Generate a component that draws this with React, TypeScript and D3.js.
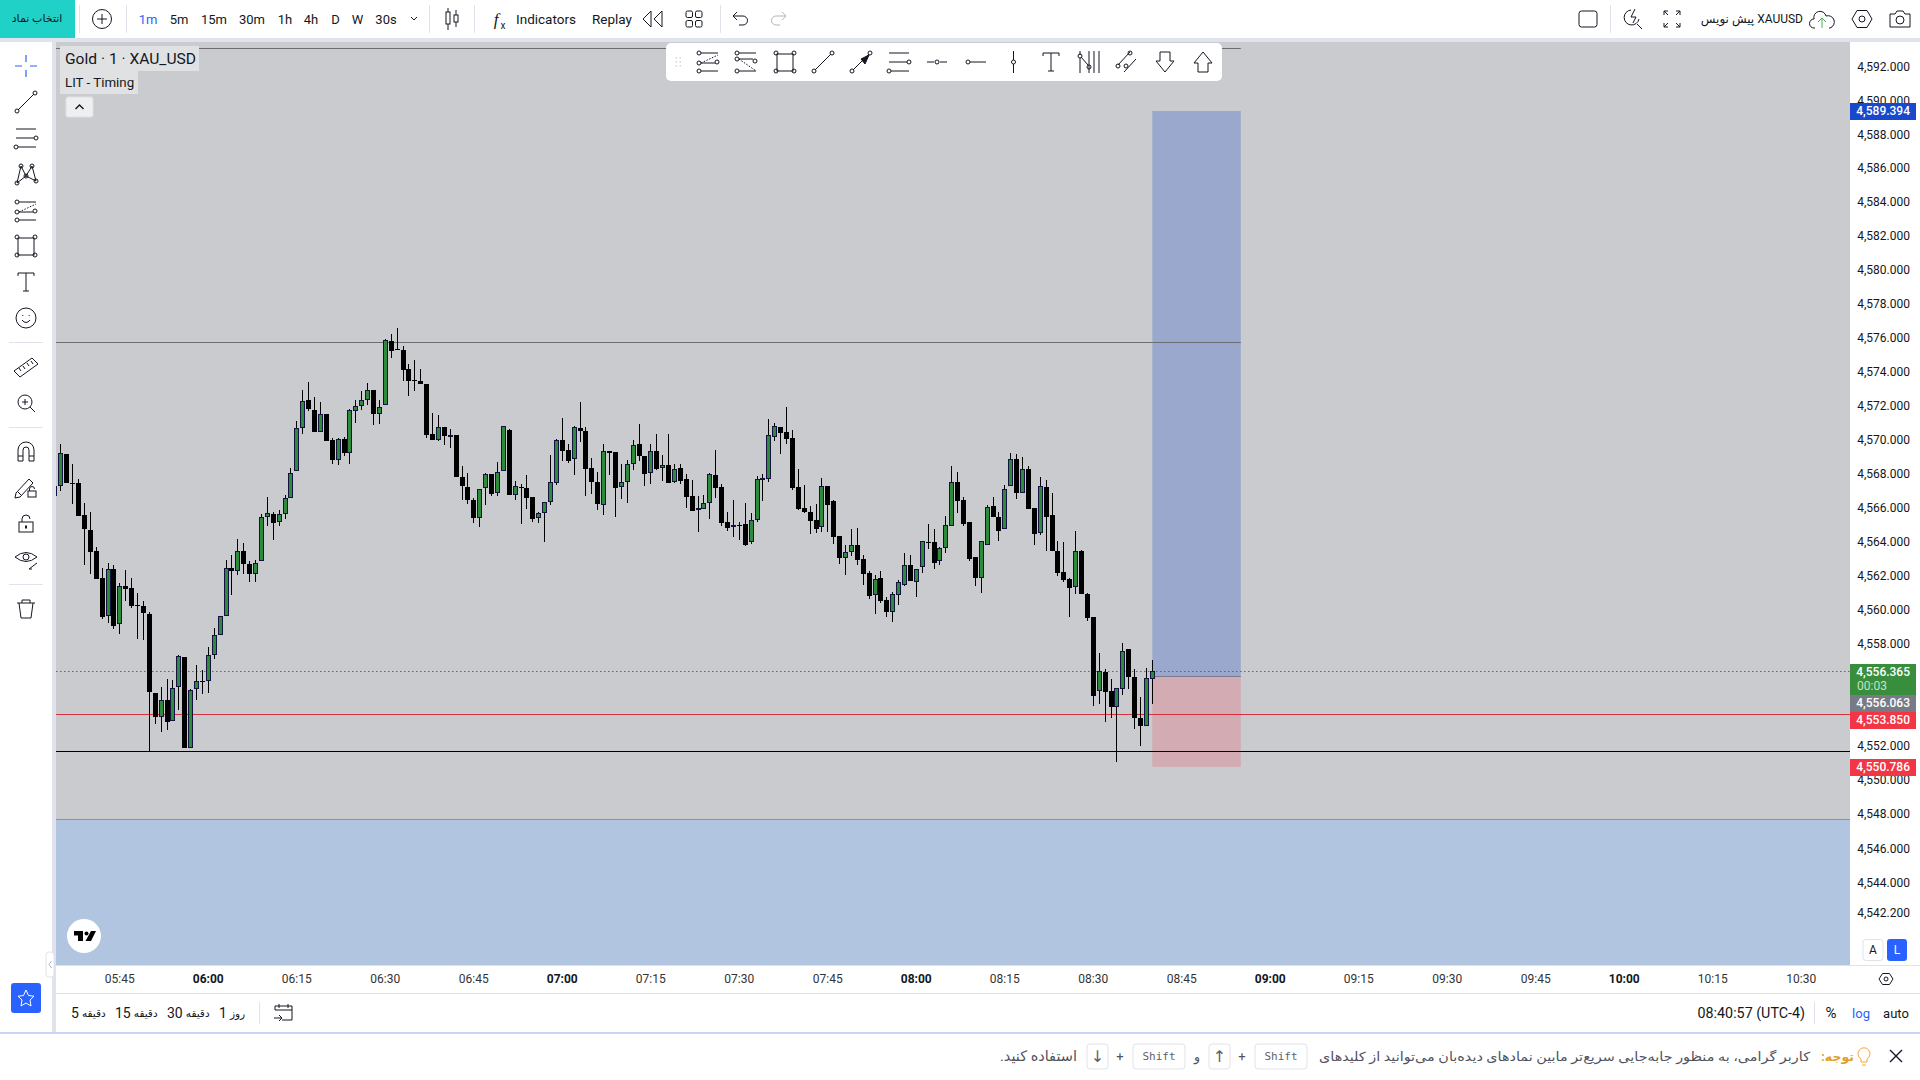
import { useEffect, useRef } from "react";
import * as d3 from "d3";

// one-minute bars, the first one is 05:34
const firstBarMinute = 334;

const opens = [
  4566.6, 4567.21, 4569.11, 4567.38, 4567.4, 4565.5, 4564.63, 4563.37, 4561.78, 4559.54,
  4562.31, 4559.07, 4561.33, 4561.19, 4560.19, 4560.13, 4559.68, 4555.02, 4553.59, 4554.59,
  4553.35, 4555.36, 4557.12, 4551.76, 4555.24, 4555.71, 4555.71, 4557.24, 4558.42, 4559.54,
  4562.37, 4562.19, 4563.37, 4562.61, 4562.0, 4562.78, 4565.38, 4565.57, 4565.06, 4565.56,
  4566.5, 4568.09, 4570.62, 4572.3, 4571.71, 4570.37, 4571.47, 4569.94, 4568.74, 4569.98,
  4569.15, 4571.63, 4571.9, 4572.26, 4572.88, 4571.45, 4571.98, 4575.75, 4575.28, 4575.22,
  4574.1, 4573.45, 4573.42, 4573.24, 4570.27, 4569.9, 4570.68, 4570.09, 4570.23, 4567.74,
  4567.15, 4566.4, 4565.3, 4567.09, 4567.93, 4566.77, 4568.09, 4570.52, 4566.67, 4567.14,
  4567.1, 4566.57, 4565.3, 4565.61, 4566.24, 4567.36, 4569.93, 4569.34, 4568.79, 4570.62,
  4570.46, 4568.28, 4567.46, 4566.06, 4569.29, 4569.23, 4567.14, 4567.42, 4568.5, 4569.7,
  4568.99, 4567.95, 4569.29, 4568.26, 4568.46, 4567.44, 4568.28, 4567.64, 4566.63, 4565.77,
  4565.85, 4566.2, 4567.87, 4567.16, 4565.1, 4564.79, 4564.9, 4564.98, 4563.88, 4565.18,
  4567.56, 4567.62, 4570.09, 4570.7, 4570.41, 4570.05, 4567.16, 4565.93, 4565.69, 4565.22,
  4564.79, 4567.22, 4566.34, 4564.28, 4562.94, 4563.29, 4563.74, 4562.92, 4562.09, 4560.76,
  4561.8, 4560.5, 4559.81, 4560.76, 4561.4, 4562.56, 4561.58, 4562.41, 4563.9, 4563.92,
  4562.76, 4563.53, 4564.88, 4567.46, 4566.4, 4565.1, 4563.03, 4561.76, 4563.76, 4566.04,
  4565.39, 4564.65, 4567.18, 4568.81, 4566.77, 4568.22, 4565.92, 4564.41, 4567.16, 4565.51,
  4563.39, 4562.15, 4561.74, 4561.23, 4563.39, 4560.85, 4559.5, 4555.15, 4556.26, 4555.14,
  4554.21, 4555.27, 4557.61, 4555.96, 4553.54, 4553.09, 4555.86,
];

const closes = [
  4567.21, 4569.15, 4567.36, 4567.38, 4565.42, 4564.65, 4563.29, 4561.7, 4559.52, 4562.31,
  4558.99, 4561.31, 4561.11, 4560.11, 4560.19, 4559.7, 4555.1, 4553.63, 4554.59, 4553.33,
  4555.3, 4557.18, 4551.8, 4555.18, 4555.71, 4555.71, 4557.24, 4558.42, 4559.54, 4562.37,
  4562.17, 4563.37, 4562.59, 4562.0, 4562.67, 4565.38, 4565.61, 4565.0, 4565.56, 4566.5,
  4567.97, 4570.62, 4572.22, 4571.73, 4570.37, 4571.45, 4569.84, 4568.72, 4569.98, 4569.13,
  4571.69, 4571.92, 4572.28, 4572.86, 4571.43, 4571.86, 4575.81, 4575.2, 4575.28, 4574.08,
  4573.42, 4573.45, 4573.2, 4570.19, 4569.9, 4570.68, 4570.13, 4570.21, 4567.72, 4567.19,
  4566.36, 4565.3, 4567.03, 4567.91, 4566.75, 4568.03, 4570.74, 4566.65, 4567.2, 4567.14,
  4566.53, 4565.24, 4565.61, 4566.26, 4567.44, 4569.91, 4569.25, 4568.7, 4570.68, 4570.43,
  4568.24, 4567.42, 4566.12, 4569.27, 4569.13, 4567.12, 4567.44, 4568.5, 4569.62, 4568.99,
  4567.93, 4569.27, 4568.22, 4568.42, 4567.4, 4568.2, 4567.52, 4566.57, 4565.75, 4565.91,
  4566.2, 4567.91, 4567.1, 4565.04, 4564.75, 4564.9, 4564.9, 4563.74, 4565.2, 4567.62,
  4567.67, 4570.21, 4570.74, 4570.35, 4569.99, 4567.1, 4565.87, 4565.69, 4565.16, 4564.69,
  4567.2, 4566.1, 4564.22, 4562.98, 4563.31, 4563.72, 4562.86, 4562.03, 4560.74, 4561.72,
  4560.44, 4559.79, 4560.85, 4561.54, 4562.54, 4561.62, 4562.31, 4563.96, 4563.9, 4562.68,
  4563.55, 4564.9, 4567.44, 4566.34, 4564.98, 4562.92, 4561.8, 4563.96, 4565.96, 4565.39,
  4564.57, 4567.02, 4568.79, 4566.81, 4568.2, 4565.86, 4564.39, 4567.2, 4565.39, 4563.39,
  4562.09, 4561.68, 4561.21, 4563.37, 4560.85, 4559.44, 4554.84, 4556.29, 4555.08, 4554.19,
  4555.29, 4557.47, 4555.96, 4553.54, 4553.07, 4555.88, 4556.29,
];

const highs = [
  4567.25, 4569.7, 4569.11, 4568.52, 4567.64, 4566.22, 4565.69, 4563.61, 4562.39, 4562.69,
  4562.57, 4561.51, 4562.27, 4561.78, 4560.92, 4560.45, 4559.78, 4555.02, 4555.38, 4555.85,
  4555.77, 4557.26, 4557.12, 4555.26, 4556.67, 4556.4, 4557.71, 4558.85, 4559.54, 4562.84,
  4563.16, 4564.1, 4563.86, 4562.76, 4562.84, 4565.56, 4566.58, 4565.67, 4565.79, 4566.68,
  4568.29, 4571.06, 4572.88, 4573.36, 4572.45, 4572.16, 4571.47, 4570.05, 4570.05, 4570.09,
  4571.77, 4572.3, 4572.83, 4573.3, 4572.9, 4572.3, 4575.89, 4576.19, 4576.54, 4575.46,
  4574.4, 4574.63, 4574.12, 4573.24, 4571.53, 4571.39, 4570.68, 4570.57, 4570.23, 4568.38,
  4567.99, 4566.52, 4567.03, 4567.99, 4567.93, 4568.62, 4570.74, 4570.58, 4567.5, 4567.32,
  4567.85, 4566.57, 4565.67, 4566.28, 4569.05, 4569.99, 4571.23, 4569.7, 4570.76, 4572.17,
  4570.7, 4568.87, 4568.05, 4569.7, 4569.29, 4569.23, 4568.52, 4568.76, 4569.93, 4570.88,
  4568.99, 4569.7, 4570.29, 4569.05, 4570.29, 4568.52, 4568.52, 4567.93, 4567.58, 4566.63,
  4566.69, 4567.99, 4569.34, 4567.34, 4565.69, 4566.4, 4565.1, 4566.22, 4565.63, 4567.81,
  4567.93, 4571.17, 4570.94, 4570.7, 4571.88, 4570.52, 4568.22, 4567.28, 4566.04, 4566.16,
  4567.69, 4567.22, 4566.4, 4564.28, 4563.74, 4564.69, 4564.75, 4563.15, 4562.21, 4561.97,
  4562.19, 4560.68, 4560.97, 4561.68, 4563.27, 4563.15, 4562.33, 4563.98, 4564.98, 4564.69,
  4563.62, 4565.45, 4568.4, 4568.05, 4566.57, 4565.1, 4563.03, 4563.98, 4566.1, 4566.57,
  4565.69, 4567.28, 4569.17, 4569.11, 4568.93, 4568.4, 4565.92, 4567.75, 4567.57, 4566.81,
  4563.98, 4563.92, 4561.8, 4564.57, 4563.45, 4560.91, 4559.5, 4557.38, 4556.43, 4555.84,
  4555.31, 4557.97, 4557.61, 4556.43, 4554.78, 4556.49, 4556.96,
];

const lows = [
  4566.56, 4566.89, 4567.36, 4566.16, 4565.42, 4562.57, 4562.04, 4561.7, 4559.38, 4559.15,
  4558.8, 4558.5, 4560.41, 4560.03, 4558.21, 4558.15, 4551.59, 4553.2, 4552.74, 4552.86,
  4553.35, 4554.04, 4551.8, 4551.76, 4554.63, 4554.96, 4555.04, 4556.99, 4558.42, 4559.54,
  4560.8, 4561.98, 4562.04, 4561.57, 4561.53, 4562.78, 4564.87, 4564.04, 4564.87, 4565.24,
  4566.5, 4568.09, 4570.29, 4571.65, 4570.37, 4570.37, 4569.84, 4568.48, 4568.42, 4569.0,
  4568.48, 4570.94, 4571.71, 4572.0, 4570.82, 4570.88, 4571.98, 4574.77, 4575.26, 4573.42,
  4572.53, 4572.83, 4573.2, 4570.02, 4569.9, 4569.84, 4569.64, 4569.47, 4567.72, 4566.4,
  4566.16, 4565.04, 4564.81, 4566.06, 4566.63, 4566.63, 4568.09, 4566.65, 4566.4, 4564.98,
  4565.87, 4565.1, 4565.04, 4563.92, 4566.1, 4567.28, 4568.7, 4568.58, 4567.87, 4569.82,
  4566.63, 4566.75, 4565.81, 4565.51, 4567.87, 4565.39, 4566.46, 4566.22, 4568.17, 4568.7,
  4567.22, 4567.34, 4568.17, 4567.52, 4567.4, 4567.4, 4567.34, 4565.93, 4565.75, 4564.51,
  4565.85, 4565.28, 4566.52, 4564.86, 4564.57, 4564.22, 4564.04, 4563.69, 4563.8, 4565.1,
  4566.34, 4567.46, 4569.88, 4569.11, 4569.7, 4566.99, 4565.81, 4565.63, 4564.39, 4564.45,
  4564.51, 4564.51, 4563.8, 4562.62, 4561.98, 4563.1, 4562.57, 4561.38, 4560.56, 4559.67,
  4560.32, 4559.5, 4559.2, 4560.21, 4561.33, 4561.62, 4560.68, 4562.09, 4563.51, 4562.33,
  4562.56, 4563.27, 4564.88, 4565.63, 4564.86, 4562.8, 4561.33, 4560.91, 4563.76, 4565.39,
  4563.98, 4564.65, 4567.18, 4566.45, 4566.77, 4565.86, 4563.74, 4564.33, 4563.39, 4563.39,
  4561.92, 4561.56, 4559.5, 4560.85, 4560.85, 4559.26, 4554.25, 4554.37, 4553.31, 4553.54,
  4550.95, 4554.9, 4555.25, 4552.9, 4551.89, 4553.09, 4554.37,
];

const priceTicks = [
  4592, 4590, 4588, 4586, 4584, 4582, 4580, 4578, 4576, 4574, 4572, 4570, 4568, 4566, 4564,
  4562, 4560, 4558, 4552, 4550, 4548, 4546, 4544, 4542.2,
];
const timeLabels = [
  "05:45", "06:00", "06:15", "06:30", "06:45", "07:00", "07:15", "07:30", "07:45", "08:00",
  "08:15", "08:30", "08:45", "09:00", "09:15", "09:30", "09:45", "10:00", "10:15", "10:30",
];
const periodButtons = [
  { n: "5", word: "دقیقه" },
  { n: "15", word: "دقیقه" },
  { n: "30", word: "دقیقه" },
  { n: "1", word: "روز" },
];

// drawn levels on the chart
const topLevel = 4593.11;
const swingLevel = 4575.74;
const lastPrice = 4556.365;
const redLevel = 4553.85;
const blackLevel = 4551.66;
const zoneTop = 4547.7;
const entryPrice = 4556.063;
const targetPrice = 4589.394;
const stopPrice = 4550.786;
const boxStartMinute = 520;
const boxEndMinute = 535;

const fmt = d3.format(",.3f");
const INK = "#131722";
const LINE = "#e0e3eb";

const pane = { left: 56, right: 1850, top: 42, bottom: 965 };
const y = d3.scaleLog().domain([4592, 4542]).range([66.7, 914.7]);
// the axis labels and the drawn levels sit on a very slightly steeper scale than the read bars
const levelY = d3.scaleLog().domain([4592, 4542]).range([66.9, 916.9]);
const x = d3.scaleLinear().domain([360, 630]).range([208.3, 1801.3]);

function toMinute(label: string) {
  const [h, m] = label.split(":").map(Number);
  return h * 60 + m;
}

function Dot({ cx, cy }: { cx: number; cy: number }) {
  return <circle cx={cx} cy={cy} r={2} fill="none" />;
}

function Txt(props: any) {
  const { size = 13, color = INK, children, ...rest } = props;
  return (
    <text fontFamily="Roboto, 'DejaVu Sans', sans-serif" fontSize={size} fill={color} dominantBaseline="central" {...rest}>
      {children}
    </text>
  );
}

function Icon({ x: ix, y: iy, color = INK, children }: any) {
  return (
    <g transform={`translate(${ix},${iy})`} fill="none" stroke={color} strokeWidth={1}>
      {children}
    </g>
  );
}

function FibIcon({ x: ix, y: iy, flip = false }: any) {
  return (
    <Icon x={ix} y={iy}>
      <path d="M-7 -9H10M-7 9H10" />
      {flip ? (
        <g>
          <path d="M-7 -3H7" />
          <path d="M-7 -3L10 9" strokeDasharray="1.5 1.5" />
          <Dot cx={-9} cy={-3} />
          <Dot cx={9} cy={-1} />
        </g>
      ) : (
        <g>
          <path d="M-7 1H7" />
          <path d="M-7 1L10 -7" strokeDasharray="1.5 1.5" />
          <Dot cx={-9} cy={1} />
          <Dot cx={9} cy={0} />
        </g>
      )}
      <Dot cx={-9} cy={-9} />
      <Dot cx={-9} cy={9} />
    </Icon>
  );
}

function RectIcon({ x: ix, y: iy }: any) {
  return (
    <Icon x={ix} y={iy}>
      <rect x={-8} y={-8} width={16} height={17} />
      <Dot cx={-9} cy={-9} />
      <Dot cx={9} cy={-9} />
      <Dot cx={-9} cy={9} />
      <Dot cx={9} cy={9} />
    </Icon>
  );
}

function LineIcon({ x: ix, y: iy }: any) {
  return (
    <Icon x={ix} y={iy}>
      <path d="M-8 8L8 -8" />
      <Dot cx={-9} cy={9} />
      <Dot cx={9} cy={-9} />
    </Icon>
  );
}

function ChannelIcon({ x: ix, y: iy }: any) {
  return (
    <Icon x={ix} y={iy}>
      <path d="M-10 -9H10M-10 0H8M-8 9H10" />
      <Dot cx={10} cy={0} />
      <Dot cx={-10} cy={9} />
    </Icon>
  );
}

function TextIcon({ x: ix, y: iy }: any) {
  return (
    <Icon x={ix} y={iy}>
      <path d="M-8 -6V-9H8V-6M0 -9V9M-3 9H3" />
    </Icon>
  );
}

function Keycap({ x: kx, w, label, mono = false }: any) {
  return (
    <g>
      <rect x={kx} y={1044} width={w} height={25} rx={3} fill="#fff" stroke={LINE} />
      <text
        x={kx + w / 2}
        y={1056.5}
        textAnchor="middle"
        dominantBaseline="central"
        fontFamily={mono ? "'DejaVu Sans Mono', monospace" : "Roboto, 'DejaVu Sans', sans-serif"}
        fontSize={mono ? 11 : 16}
        fill="#5d606b"
      >
        {label}
      </text>
    </g>
  );
}

export default function App() {
  const chartRef = useRef<SVGGElement>(null);

  useEffect(() => {
    if (!chartRef.current) return;
    const g = d3.select(chartRef.current);
    g.selectAll("*").remove();

    const bars = opens.map((open, i) => ({
      minute: firstBarMinute + i,
      open,
      close: closes[i],
      high: highs[i],
      low: lows[i],
    }));

    const candle = g
      .selectAll("g")
      .data(bars)
      .join("g")
      .attr("shape-rendering", "crispEdges");

    const left = (d: any) => Math.round(x(d.minute) - 2.5);
    const bodyTop = (d: any) => Math.round(y(Math.max(d.open, d.close)));
    const bodyH = (d: any) => Math.max(1, Math.round(y(Math.min(d.open, d.close))) - bodyTop(d));

    candle
      .append("rect")
      .attr("x", (d) => left(d) + 2)
      .attr("width", 1)
      .attr("y", (d) => Math.round(y(d.high)))
      .attr("height", (d) => Math.max(1, Math.round(y(d.low)) - Math.round(y(d.high))))
      .attr("fill", "#000");

    candle
      .append("rect")
      .attr("x", (d) => left(d))
      .attr("width", 5)
      .attr("y", bodyTop)
      .attr("height", bodyH)
      .attr("fill", (d) => (d.close > d.open ? "#14123f" : "#000"));

    candle
      .filter((d) => d.close > d.open)
      .append("rect")
      .attr("x", (d) => left(d) + 1)
      .attr("width", 3)
      .attr("y", (d) => bodyTop(d) + 1)
      .attr("height", (d) => Math.max(0, bodyH(d) - 2))
      .attr("fill", "#2e8b3c");
  }, []);

  const boxX = x(boxStartMinute);
  const boxW = x(boxEndMinute) - boxX;
  const lvl = (p: number) => Math.floor(levelY(p)) + 0.5;

  return (
    <svg width={1920} height={1080} style={{ position: "absolute", left: 0, top: 0, display: "block" }}>
      <defs>
        <clipPath id="paneClip">
          <rect x={pane.left} y={pane.top} width={pane.right - pane.left} height={pane.bottom - pane.top} />
        </clipPath>
      </defs>
      <rect width={1920} height={1080} fill="#fff" />
      <rect y={38} width={1920} height={994} fill={LINE} />
      <rect y={1032} width={1920} height={2} fill="#ccd3f6" />
      <rect y={1034} width={1920} height={46} fill="#fff" />

      {/* chart pane */}
      <g clipPath="url(#paneClip)">
        <rect x={pane.left} y={pane.top} width={pane.right - pane.left} height={pane.bottom - pane.top} fill="#c9cbcf" />
        <rect x={pane.left} y={lvl(zoneTop)} width={pane.right - pane.left} height={pane.bottom - lvl(zoneTop)} fill="#b2c5e0" />
        <line x1={pane.left} x2={pane.right} y1={lvl(zoneTop)} y2={lvl(zoneTop)} stroke="#8f9296" />
        <rect x={boxX} y={levelY(targetPrice)} width={boxW} height={levelY(entryPrice) - levelY(targetPrice)} fill="#9aa8cd" />
        <rect x={boxX} y={levelY(entryPrice)} width={boxW} height={levelY(stopPrice) - levelY(entryPrice)} fill="#d2abb3" />
        <line x1={boxX} x2={boxX + boxW} y1={lvl(entryPrice)} y2={lvl(entryPrice)} stroke="#787b8e" strokeWidth={1} />
        <line x1={pane.left} x2={boxX + boxW} y1={lvl(topLevel)} y2={lvl(topLevel)} stroke="#6b6d70" />
        <line x1={pane.left} x2={boxX + boxW} y1={lvl(swingLevel)} y2={lvl(swingLevel)} stroke="#6b6d70" />
        <line x1={pane.left} x2={pane.right} y1={lvl(lastPrice)} y2={lvl(lastPrice)} stroke="#2e8b3c" strokeDasharray="1.5 2.5" />
        <line x1={pane.left} x2={pane.right} y1={lvl(redLevel)} y2={lvl(redLevel)} stroke="#d8303f" />
        <line x1={pane.left} x2={pane.right} y1={lvl(blackLevel)} y2={lvl(blackLevel)} stroke="#000" />
        <g ref={chartRef} />
      </g>

      {/* legend */}
      <rect x={60} y={46} width={139} height={25} fill="#e0e1e3" />
      <Txt x={65} y={58.5} size={15} textLength={131} lengthAdjust="spacingAndGlyphs">Gold · 1 · XAU_USD</Txt>
      <rect x={60} y={71} width={78} height={23} fill="#e0e1e3" />
      <Txt x={65} y={82.5} size={13.3}>LIT - Timing</Txt>
      <rect x={66} y={97} width={27} height={20} rx={2} fill="#eeeff0" stroke="#dfe0e2" />
      <path d="M75.5 109L79.5 105L83.5 109" fill="none" stroke={INK} strokeWidth={1.4} />

      {/* logo */}
      <circle cx={84} cy={936} r={17} fill="#fff" />
      <path d="M74 931H83V941H78V935.5H74ZM91 931H96L91 941H85.5Z" fill="#000" />
      <circle cx={86.5} cy={933.5} r={2} fill="#000" />

      {/* price axis */}
      <rect x={pane.right} y={42} width={70} height={923} fill="#fff" />
      {priceTicks.map((t) => (
        <Txt key={t} x={1910} y={levelY(t)} size={12} textAnchor="end">{fmt(t)}</Txt>
      ))}
      {[
        { value: targetPrice, top: 103, h: 17, fill: "#1848cc" },
        { value: entryPrice, top: 695, h: 17, fill: "#787b86" },
        { value: redLevel, top: 712, h: 17, fill: "#f23645" },
        { value: stopPrice, top: 759, h: 17, fill: "#f23645" },
      ].map((d) => (
        <g key={d.value}>
          <rect x={pane.right} y={d.top} width={66} height={d.h} fill={d.fill} />
          <Txt x={1910} y={d.top + d.h / 2 - 0.8} size={12} color="#fff" textAnchor="end" fontWeight={500}>{fmt(d.value)}</Txt>
        </g>
      ))}
      <rect x={pane.right} y={664} width={66} height={31} fill="#388e3c" />
      <Txt x={1910} y={672} size={12} color="#fff" textAnchor="end" fontWeight={500}>{fmt(lastPrice)}</Txt>
      <Txt x={1872} y={686} size={12} color="#c5e1c7" textAnchor="middle">00:03</Txt>
      <rect x={1863} y={939.5} width={20} height={21} rx={3} fill="#fff" stroke={LINE} />
      <Txt x={1873} y={950} size={12} textAnchor="middle">A</Txt>
      <rect x={1887} y={939} width={20} height={22} rx={3} fill="#2962ff" />
      <Txt x={1897} y={950} size={12} color="#fff" textAnchor="middle">L</Txt>

      {/* time axis */}
      <rect x={pane.left} y={965} width={1864} height={28} fill="#fff" />
      <line x1={pane.left} x2={1920} y1={965.5} y2={965.5} stroke={LINE} />
      <line x1={pane.left} x2={1920} y1={993.5} y2={993.5} stroke={LINE} />
      {timeLabels.map((t) => (
        <Txt key={t} x={x(toMinute(t))} y={978.5} size={12} textAnchor="middle" fontWeight={t.endsWith(":00") ? 700 : 400} color={t.endsWith(":00") ? INK : "#333"}>
          {t}
        </Txt>
      ))}
      <Icon x={1886} y={979}>
        <path d="M-7 0L-3.5 -5.5H3.5L7 0L3.5 5.5H-3.5Z" />
        <circle r={2} />
      </Icon>

      {/* bottom bar */}
      <rect x={pane.left} y={994} width={1864} height={38} fill="#fff" />
      {periodButtons.map((b, i) => (
        <Txt key={b.n} x={[71, 115, 167, 219][i]} y={1013} size={14}>
          {b.n}
          <tspan fontSize={10.5} dx={3}>{b.word}</tspan>
        </Txt>
      ))}
      <line x1={259.5} x2={259.5} y1={1002} y2={1024} stroke={LINE} />
      <Icon x={283} y={1013}>
        <path d="M-8 -3V-7H9V7H-1M-8 -3H9M-4 -9V-5M5 -9V-5M-9 5H-1M-4 2L-1 5L-4 8" />
      </Icon>
      <Txt x={1805} y={1013} size={14.3} textAnchor="end">08:40:57 (UTC-4)</Txt>
      <line x1={1814.5} x2={1814.5} y1={1002} y2={1024} stroke={LINE} />
      <Txt x={1831} y={1013} size={15} textAnchor="middle">%</Txt>
      <Txt x={1861} y={1013} size={13} textAnchor="middle" color="#2962ff">log</Txt>
      <Txt x={1896} y={1013} size={13} textAnchor="middle">auto</Txt>

      {/* left toolbar */}
      <rect x={0} y={42} width={52} height={990} fill="#fff" />
      <Icon x={26} y={66} color="#2962ff">
        <path d="M-11 0H-4M4 0H11M0 -11V-4M0 4V11" strokeWidth={1.2} />
      </Icon>
      <LineIcon x={26} y={102} />
      <ChannelIcon x={26} y={138} />
      <Icon x={26} y={174}>
        <path d="M-9 9L-5 -8L0 2L6 -8L10 7L0 2L-9 9" />
        <Dot cx={-9} cy={9} />
        <Dot cx={-5} cy={-8} />
        <Dot cx={0} cy={2} />
        <Dot cx={6} cy={-8} />
        <Dot cx={10} cy={7} />
      </Icon>
      <FibIcon x={26} y={211} />
      <RectIcon x={26} y={246} />
      <TextIcon x={26} y={282} />
      <Icon x={26} y={318}>
        <circle r={10} />
        <path d="M-4 2Q0 7 4 2M-3.2 -3V-2M3.2 -3V-2" />
      </Icon>
      <line x1={9} x2={43} y1={342.5} y2={342.5} stroke={LINE} />
      <Icon x={26} y={367}>
        <path d="M-12 4L6 -9L12 -3L-6 10ZM-7 1L-5 4M-3 -1L-1 2M1 -4L3 -1M5 -6L7 -3" />
      </Icon>
      <Icon x={26} y={403}>
        <circle cx={-1} cy={-1} r={7} />
        <path d="M4 4L9 9M-4 -1H2M-1 -4V2" />
      </Icon>
      <line x1={9} x2={43} y1={427.5} y2={427.5} stroke={LINE} />
      <Icon x={26} y={452}>
        <path d="M-8 9V-2A8 8 0 0 1 8 -2V9H3V-2A3 3 0 0 0 -3 -2V9ZM-8 4H-3M3 4H8" />
      </Icon>
      <Icon x={26} y={488}>
        <path d="M-10 5L3 -9L7 -5L-6 9L-11 10ZM-8 4L-5 7" />
        <rect x={2} y={3} width={8} height={6} />
        <path d="M3.5 3V1A2.5 2.5 0 0 1 8.5 1" />
      </Icon>
      <Icon x={26} y={524}>
        <rect x={-7} y={-2} width={14} height={10} />
        <path d="M-4 -2V-5A4 4 0 0 1 4 -5" />
        <rect x={-0.5} y={2} width={1} height={2} />
      </Icon>
      <Icon x={26} y={560}>
        <path d="M-11 -3Q0 -12 11 -3Q0 6 -11 -3Z" />
        <circle cy={-3} r={3} />
        <path d="M3 9L11 3M3 9L6 9" />
      </Icon>
      <line x1={9} x2={43} y1={584.5} y2={584.5} stroke={LINE} />
      <Icon x={26} y={609}>
        <path d="M-9 -6H9M-7 -6L-5 9H5L7 -6M-4 -6V-9H4V-6" />
      </Icon>
      <rect x={11} y={983} width={30} height={30} rx={3} fill="#2962ff" />
      <path d="M26 990L28.5 995.5L34 996.2L30 1000L31 1006L26 1003L21 1006L22 1000L18 996.2L23.5 995.5Z" fill="none" stroke="#fff" />
      <rect x={46} y={952} width={8} height={25} rx={3} fill="#fff" stroke={LINE} />
      <path d="M51.5 961L49 964.5L51.5 968" fill="none" stroke="#b2b5be" />

      {/* top bar */}
      <rect width={1920} height={38} fill="#fff" />
      <rect width={75} height={38} fill="#1fd1c7" />
      <Txt x={37} y={18} size={11} textAnchor="middle">انتخاب نماد</Txt>
      <line x1={79.5} x2={79.5} y1={5} y2={33} stroke={LINE} />
      <Icon x={102} y={19}>
        <circle r={9.5} />
        <path d="M-5 0H5M0 -5V5" />
      </Icon>
      <line x1={126.5} x2={126.5} y1={5} y2={33} stroke={LINE} />
      <Txt x={148} y={19} size={13} textAnchor="middle" color="#2962ff">1m</Txt>
      {[
        ["5m", 179],
        ["15m", 214],
        ["30m", 252],
        ["1h", 285],
        ["4h", 311],
        ["D", 335.5],
        ["W", 357.5],
        ["30s", 386],
      ].map(([l, px]) => (
        <Txt key={l as string} x={px} y={19} size={13} textAnchor="middle">{l}</Txt>
      ))}
      <path d="M411 17L414 20L417 17" fill="none" stroke={INK} />
      <line x1={429.5} x2={429.5} y1={5} y2={33} stroke={LINE} />
      <Icon x={452} y={19}>
        <rect x={-6} y={-7} width={4} height={12} />
        <rect x={2} y={-4} width={4} height={7} />
        <path d="M-4 -11V-7M-4 5V11M4 -9V-4M4 3V8" />
      </Icon>
      <line x1={474.5} x2={474.5} y1={5} y2={33} stroke={LINE} />
      <Txt x={496} y={19} size={17} textAnchor="middle" fontStyle="italic" fontFamily="'Liberation Serif', serif">f</Txt>
      <Txt x={503} y={25} size={10} textAnchor="middle">x</Txt>
      <Txt x={546} y={19} size={13.5} textAnchor="middle">Indicators</Txt>
      <Txt x={612} y={19} size={13.5} textAnchor="middle">Replay</Txt>
      <Icon x={653} y={19}>
        <path d="M-2 -8L-10 0L-2 8ZM9 -8L1 0L9 8Z" />
      </Icon>
      <Icon x={694} y={19}>
        <rect x={-8} y={-8} width={6.5} height={6.5} rx={1.5} />
        <rect x={1.5} y={-8} width={6.5} height={6.5} rx={1.5} />
        <rect x={-8} y={1.5} width={6.5} height={6.5} rx={1.5} />
        <rect x={1.5} y={1.5} width={6.5} height={6.5} rx={1.5} />
      </Icon>
      <line x1={720.5} x2={720.5} y1={5} y2={33} stroke={LINE} />
      <Icon x={740} y={19}>
        <path d="M-7 -3H3A4.5 4.5 0 0 1 3 6H-1M-3 -7L-7 -3L-3 1" />
      </Icon>
      <Icon x={779} y={19} color="#b2b5be">
        <path d="M7 -3H-3A4.5 4.5 0 0 0 -3 6H1M3 -7L7 -3L3 1" />
      </Icon>
      <Icon x={1588} y={19}>
        <rect x={-9} y={-8} width={18} height={16} rx={2.5} />
      </Icon>
      <line x1={1610.5} x2={1610.5} y1={5} y2={33} stroke={LINE} />
      <Icon x={1633} y={19}>
        <path d="M-2 -9A7.5 7.5 0 1 0 6 0M4 5L9 10M2 -10L-2 -2H3L0 4" />
      </Icon>
      <Icon x={1672} y={19}>
        <path d="M-8 -4V-8H-4M-8 -8L-4 -4M4 -8H8V-4M8 -8L4 -4M-8 4V8H-4M-8 8L-4 4M4 8H8V4M8 8L4 4" />
      </Icon>
      <Txt x={1803} y={19} size={12} textAnchor="end">پیش نویس XAUUSD</Txt>
      <Icon x={1822} y={19}>
        <path d="M-7 9H-8A4.5 4.5 0 0 1 -8 0A6 6 0 0 1 4 -3A5.5 5.5 0 0 1 8 9H7" />
      </Icon>
      <path d="M1822 28V19M1818 22L1822 18L1826 22" fill="none" stroke="#4caf50" />
      <Icon x={1862} y={19}>
        <path d="M-10 0L-5 -8.5H5L10 0L5 8.5H-5Z" />
        <circle r={3} />
      </Icon>
      <Icon x={1900} y={19}>
        <path d="M-10 -5H-5L-3 -8H3L5 -5H10V8H-10Z" />
        <circle cy={1} r={4} />
      </Icon>

      {/* floating drawing toolbar */}
      <rect x={666} y={43} width={556} height={38} rx={5} fill="#fff" />
      {[-4, 0, 4].map((dy) => (
        <g key={dy} fill="#d1d4dc">
          <rect x={675.5} y={61 + dy} width={1.5} height={1.5} />
          <rect x={679.5} y={61 + dy} width={1.5} height={1.5} />
        </g>
      ))}
      <FibIcon x={708} y={62} />
      <FibIcon x={746} y={62} flip />
      <RectIcon x={785} y={62} />
      <LineIcon x={823} y={62} />
      <Icon x={861} y={62}>
        <path d="M-8 8L8 -8" />
        <path d="M8 -7L0 -3L4 2Z" fill={INK} />
        <Dot cx={-9} cy={9} />
        <Dot cx={9} cy={-9} />
      </Icon>
      <ChannelIcon x={899} y={62} />
      <Icon x={937} y={62}>
        <path d="M-10 0H-3M3 0H10" />
        <Dot cx={0} cy={0} />
      </Icon>
      <Icon x={976} y={62}>
        <path d="M-6 0H10" />
        <Dot cx={-8} cy={0} />
      </Icon>
      <Icon x={1013.5} y={62}>
        <path d="M0 -11V-2M0 2V11" />
        <Dot cx={0} cy={0} />
      </Icon>
      <TextIcon x={1051} y={62} />
      <Icon x={1089} y={62}>
        <path d="M-9 -11V-7M-9 -4V11M0 -11V11M5 -11V11M10 -11V11M-8 -5L-1 3" />
        <Dot cx={-9} cy={-6} />
        <Dot cx={0} cy={5} />
      </Icon>
      <Icon x={1127} y={62}>
        <path d="M-9 3L3 -10M-3 10L9 -3" />
        <Dot cx={-9} cy={4} />
        <Dot cx={-1} cy={4} />
        <Dot cx={3} cy={-9} />
      </Icon>
      <Icon x={1165} y={62}>
        <path d="M-5 -10H5V-1H9L0 10L-9 -1H-5Z" />
      </Icon>
      <Icon x={1203} y={62}>
        <path d="M-5 10H5V1H9L0 -10L-9 1H-5Z" />
      </Icon>

      {/* notice bar */}
      <Icon x={1896} y={1056}>
        <path d="M-6 -6L6 6M6 -6L-6 6" strokeWidth={1.4} />
      </Icon>
      <Icon x={1864} y={1055} color="#f0a92e">
        <path d="M-3 4A6 6 0 1 1 3 4V7H-3ZM-2 10H2" />
      </Icon>
      <Txt x={1854} y={1056} size={12.5} textAnchor="start" direction="rtl" color="#e09f2d" fontWeight={700}>توجه:</Txt>
      <Txt x={1810} y={1056} size={12.5} textAnchor="end" color="#50535e" textLength={491} lengthAdjust="spacingAndGlyphs">
        کاربر گرامی، به منظور جابه‌جایی سریع‌تر مابین نمادهای دیده‌بان می‌توانید از کلیدهای
      </Txt>
      <Keycap x={1255} w={52} label="Shift" mono />
      <Txt x={1242} y={1056} size={13} textAnchor="middle" color="#50535e">+</Txt>
      <Keycap x={1209} w={21} label="↑" />
      <Txt x={1197} y={1056} size={12.5} textAnchor="middle" color="#50535e">و</Txt>
      <Keycap x={1133} w={52} label="Shift" mono />
      <Txt x={1120} y={1056} size={13} textAnchor="middle" color="#50535e">+</Txt>
      <Keycap x={1087} w={21} label="↓" />
      <Txt x={1077} y={1056} size={14.5} textAnchor="start" direction="rtl" color="#50535e">استفاده کنید.</Txt>
    </svg>
  );
}
